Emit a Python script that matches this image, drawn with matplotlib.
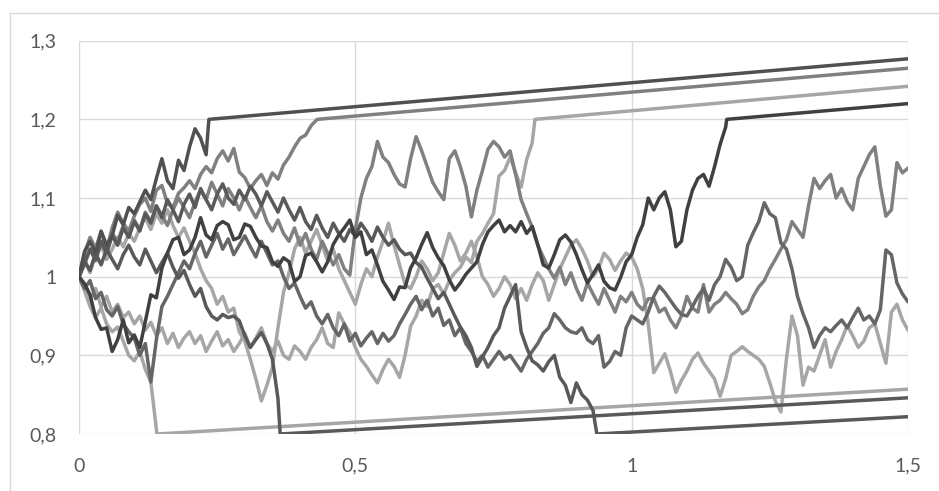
import matplotlib
matplotlib.use("Agg")
import matplotlib.pyplot as plt
from matplotlib.lines import Line2D

# time grid of the simulated paths (step 0.01)
TIME = [round(i * 0.01, 2) for i in range(151)]

# ---- paths absorbed at the upper barrier 1.2 ----
path_a = [1.000, 1.032, 1.045, 1.030, 1.058, 1.040, 1.052, 1.078, 1.066, 1.088,
          1.080, 1.095, 1.110, 1.098, 1.125, 1.150, 1.122, 1.112, 1.148, 1.135,
          1.165, 1.188, 1.176, 1.155]
path_a_tail_x = [0.235, 1.5]
path_a_tail_y = [1.2, 1.277]

path_b = [1.000, 1.030, 1.050, 1.036, 1.057, 1.035, 1.062, 1.082, 1.068, 1.058,
          1.077, 1.092, 1.100, 1.083, 1.110, 1.116, 1.093, 1.088, 1.106, 1.113,
          1.122, 1.112, 1.130, 1.140, 1.132, 1.150, 1.160, 1.147, 1.163, 1.133,
          1.126, 1.112, 1.122, 1.130, 1.116, 1.132, 1.124, 1.142, 1.152, 1.165,
          1.176, 1.180, 1.192]
path_b_tail_x = [0.431, 1.5]
path_b_tail_y = [1.2, 1.265]

path_c = [1.000, 0.985, 0.970, 0.985, 0.962, 0.975, 0.955, 0.965, 0.948, 0.955,
          0.940, 0.950, 0.932, 0.942, 0.925, 0.935, 0.915, 0.928, 0.910, 0.922,
          0.930, 0.915, 0.925, 0.905, 0.918, 0.930, 0.912, 0.920, 0.905, 0.915,
          0.928, 0.910, 0.922, 0.935, 0.915, 0.905, 0.918, 0.900, 0.895, 0.912,
          0.905, 0.895, 0.910, 0.920, 0.935, 0.915, 0.910, 0.954, 0.940, 0.929,
          0.910, 0.895, 0.886, 0.875, 0.865, 0.882, 0.895, 0.886, 0.872, 0.900,
          0.937, 0.950, 0.970, 0.962, 0.985, 0.990, 0.978, 0.995, 1.005, 1.012,
          1.025, 1.018, 1.045, 1.055, 1.068, 1.080, 1.128, 1.135, 1.152, 1.132,
          1.114, 1.149, 1.170]
path_c_tail_x = [0.825, 1.5]
path_c_tail_y = [1.2, 1.242]

path_d = [1.000, 0.991, 0.977, 0.948, 0.933, 0.935, 0.905, 0.920, 0.945, 0.916,
          0.926, 0.910, 0.943, 0.977, 0.973, 1.011, 1.030, 1.047, 1.050, 1.028,
          1.034, 1.050, 1.075, 1.053, 1.047, 1.065, 1.070, 1.066, 1.047, 1.050,
          1.067, 1.064, 1.050, 1.039, 1.037, 1.019, 1.013, 1.024, 1.019, 0.994,
          1.000, 1.027, 1.030, 1.019, 1.006, 1.019, 1.041, 1.053, 1.062, 1.072,
          1.050, 1.057, 1.028, 1.034, 1.015, 0.994, 0.983, 0.971, 0.987, 0.986,
          1.011, 1.024, 1.041, 1.056, 1.037, 1.024, 1.014, 0.996, 0.983, 0.992,
          1.003, 1.011, 1.019, 1.041, 1.057, 1.065, 1.072, 1.057, 1.065, 1.057,
          1.070, 1.055, 1.064, 1.041, 1.015, 1.011, 1.028, 1.047, 1.053, 1.044,
          1.028, 1.009, 0.992, 1.003, 1.015, 0.994, 0.986, 0.983, 0.999, 1.019,
          1.028, 1.050, 1.066, 1.100, 1.085, 1.100, 1.108, 1.085, 1.038, 1.045,
          1.085, 1.110, 1.125, 1.130, 1.115, 1.140, 1.168, 1.190]
path_d_tail_x = [1.172, 1.5]
path_d_tail_y = [1.2, 1.22]

# ---- paths absorbed at the lower barrier 0.8 ----
path_e = [1.000, 0.982, 0.962, 0.948, 0.960, 0.940, 0.930, 0.936, 0.918, 0.900,
          0.893, 0.905, 0.882, 0.866]
path_e_tail_x = [0.141, 1.5]
path_e_tail_y = [0.8, 0.857]

path_f = [1.000, 1.020, 1.008, 1.030, 1.015, 1.035, 1.022, 1.010, 1.028, 1.040,
          1.025, 1.015, 1.035, 1.020, 1.005, 1.018, 1.030, 1.012, 0.998, 1.008,
          0.990, 0.975, 0.985, 0.962, 0.950, 0.945, 0.952, 0.948, 0.950, 0.944,
          0.925, 0.910, 0.920, 0.929, 0.915, 0.895, 0.845]
path_f_tail_x = [0.364, 1.5]
path_f_tail_y = [0.8, 0.846]

path_g = [1.000, 1.018, 1.035, 1.022, 1.045, 1.030, 1.052, 1.040, 1.062, 1.050,
          1.070, 1.058, 1.080, 1.068, 1.090, 1.075, 1.098, 1.085, 1.070, 1.092,
          1.105, 1.088, 1.112, 1.098, 1.085, 1.105, 1.118, 1.100, 1.092, 1.110,
          1.098, 1.115, 1.105, 1.090, 1.108, 1.095, 1.082, 1.100, 1.085, 1.072,
          1.088, 1.070, 1.060, 1.078, 1.062, 1.050, 1.068, 1.055, 1.045, 1.060,
          1.052, 1.068, 1.058, 1.045, 1.063, 1.050, 1.040, 1.047, 1.035, 1.028,
          1.030, 1.018, 1.012, 0.998, 0.985, 0.972, 0.980, 0.965, 0.950, 0.936,
          0.925, 0.910, 0.886, 0.898, 0.910, 0.925, 0.935, 0.960, 0.975, 0.990,
          0.930, 0.910, 0.893, 0.888, 0.880, 0.892, 0.900, 0.872, 0.862, 0.840,
          0.865, 0.850, 0.843, 0.830]
path_g_tail_x = [0.937, 1.5]
path_g_tail_y = [0.8, 0.822]

# ---- paths still alive at t = 1.5 ----
path_h = [1.000, 1.015, 1.035, 1.020, 1.042, 1.030, 1.055, 1.045, 1.065, 1.052,
          1.072, 1.060, 1.082, 1.070, 1.090, 1.078, 1.065, 1.085, 1.100, 1.088,
          1.075, 1.095, 1.110, 1.098, 1.120, 1.105, 1.090, 1.112, 1.100, 1.085,
          1.102, 1.088, 1.075, 1.090, 1.070, 1.058, 1.072, 1.055, 1.045, 1.062,
          1.040, 1.055, 1.035, 1.022, 1.045, 1.030, 1.015, 1.028, 1.010, 1.002,
          1.060, 1.100, 1.125, 1.140, 1.172, 1.152, 1.145, 1.130, 1.118, 1.114,
          1.150, 1.178, 1.160, 1.140, 1.120, 1.108, 1.098, 1.150, 1.160, 1.140,
          1.115, 1.076, 1.110, 1.135, 1.162, 1.172, 1.165, 1.152, 1.160, 1.130,
          1.098, 1.080, 1.063, 1.040, 1.025, 1.010, 0.998, 1.012, 0.990, 1.005,
          0.985, 0.970, 0.992, 0.978, 0.965, 0.985, 0.970, 0.955, 0.975, 0.968,
          0.980, 0.965, 0.958, 0.972, 0.972, 0.955, 0.960, 0.945, 0.935, 0.950,
          0.975, 0.960, 0.955, 0.990, 0.955, 0.965, 0.970, 0.980, 0.972, 0.965,
          0.953, 0.958, 0.975, 0.987, 0.995, 1.010, 1.022, 1.035, 1.047, 1.070,
          1.060, 1.050, 1.090, 1.125, 1.112, 1.122, 1.130, 1.100, 1.112, 1.095,
          1.085, 1.125, 1.140, 1.155, 1.165, 1.115, 1.077, 1.085, 1.145, 1.132,
          1.138]

path_i = [1.000, 0.985, 0.995, 0.972, 0.980, 0.958, 0.950, 0.962, 0.940, 0.930,
          0.922, 0.900, 0.915, 0.866, 0.920, 0.962, 0.975, 0.990, 1.005, 1.020,
          1.010, 1.030, 1.045, 1.025, 1.040, 1.055, 1.035, 1.048, 1.028, 1.040,
          1.052, 1.038, 1.025, 1.045, 1.030, 1.015, 1.020, 1.000, 0.985, 0.992,
          0.975, 0.960, 0.968, 0.950, 0.940, 0.952, 0.935, 0.925, 0.940, 0.918,
          0.928, 0.912, 0.922, 0.930, 0.915, 0.928, 0.918, 0.925, 0.940, 0.952,
          0.965, 0.975, 0.958, 0.970, 0.950, 0.960, 0.938, 0.945, 0.925, 0.935,
          0.915, 0.905, 0.892, 0.900, 0.885, 0.895, 0.905, 0.895, 0.900, 0.890,
          0.880, 0.895, 0.905, 0.915, 0.928, 0.935, 0.953, 0.945, 0.935, 0.930,
          0.928, 0.935, 0.920, 0.915, 0.925, 0.885, 0.892, 0.905, 0.900, 0.935,
          0.950, 0.945, 0.940, 0.955, 0.975, 0.988, 0.980, 0.970, 0.960, 0.952,
          0.950, 0.962, 0.975, 0.985, 0.970, 0.990, 1.000, 1.022, 1.012, 0.995,
          1.000, 1.040, 1.056, 1.070, 1.094, 1.080, 1.075, 1.043, 1.035, 1.010,
          0.975, 0.953, 0.935, 0.910, 0.925, 0.935, 0.930, 0.938, 0.945, 0.935,
          0.948, 0.960, 0.945, 0.950, 0.940, 0.958, 1.034, 1.028, 0.992, 0.978,
          0.968]

path_j = [1.000, 1.020, 1.005, 1.028, 1.040, 1.022, 1.035, 1.050, 1.038, 1.055,
          1.045, 1.062, 1.075, 1.060, 1.080, 1.068, 1.085, 1.065, 1.050, 1.062,
          1.045, 1.030, 1.010, 0.995, 0.985, 0.965, 0.975, 0.955, 0.960, 0.930,
          0.918, 0.895, 0.870, 0.842, 0.862, 0.885, 0.935, 0.980, 1.005, 1.035,
          1.050, 1.030, 1.045, 1.060, 1.040, 1.020, 1.035, 1.010, 0.995, 0.980,
          0.965, 0.990, 1.010, 1.000, 1.025, 1.045, 1.068, 1.040, 1.015, 0.990,
          0.985, 1.000, 1.020, 1.010, 0.995, 1.005, 1.030, 1.055, 1.040, 1.020,
          1.030, 1.045, 1.025, 1.000, 0.990, 0.975, 0.985, 1.000, 0.990, 0.972,
          0.985, 0.970, 0.990, 1.005, 0.995, 0.970, 0.990, 1.010, 1.025, 1.040,
          1.047, 1.035, 1.020, 1.000, 1.010, 1.030, 1.022, 1.008, 1.020, 1.030,
          1.025, 1.010, 0.985, 0.940, 0.878, 0.890, 0.902, 0.880, 0.853, 0.868,
          0.880, 0.895, 0.903, 0.890, 0.880, 0.870, 0.848, 0.870, 0.900, 0.905,
          0.911, 0.905, 0.900, 0.895, 0.886, 0.865, 0.842, 0.828, 0.895, 0.950,
          0.925, 0.862, 0.885, 0.880, 0.900, 0.920, 0.885, 0.905, 0.920, 0.938,
          0.925, 0.910, 0.918, 0.935, 0.940, 0.915, 0.890, 0.955, 0.965, 0.945,
          0.932]

DARKEST = "#404040"
DARK = "#595959"
MID = "#808080"
LIGHT = "#a6a6a6"

series = [
    (path_c, path_c_tail_x, path_c_tail_y, LIGHT),
    (path_e, path_e_tail_x, path_e_tail_y, LIGHT),
    (path_j, None, None, LIGHT),
    (path_h, None, None, MID),
    (path_b, path_b_tail_x, path_b_tail_y, MID),
    (path_i, None, None, "#666666"),
    (path_g, path_g_tail_x, path_g_tail_y, DARK),
    (path_f, path_f_tail_x, path_f_tail_y, DARK),
    (path_a, path_a_tail_x, path_a_tail_y, "#505050"),
    (path_d, path_d_tail_x, path_d_tail_y, DARKEST),
]

fig = plt.figure(figsize=(9.39, 4.91), dpi=100)
ax = fig.add_axes([79 / 939, 1 - 434 / 491, (908 - 79) / 939, (434 - 40.7) / 491])

for ys, tx, ty, col in series:
    xs = TIME[:len(ys)]
    if tx is not None:
        xs = xs + tx
        ys = ys + ty
    ax.plot(xs, ys, color=col, lw=2.5, solid_joinstyle="round", solid_capstyle="round")

ax.set_xlim(0, 1.5)
ax.set_ylim(0.8, 1.3)
xt = [0, 0.5, 1, 1.5]
xl = ["0", "0,5", "1", "1,5"]
yt = [0.8, 0.9, 1.0, 1.1, 1.2, 1.3]
yl = ["0,8", "0,9", "1", "1,1", "1,2", "1,3"]
ax.set_xticks(xt)
ax.set_xticklabels(xl)
ax.set_yticks(yt)
ax.set_yticklabels(yl)
ax.grid(True, color="#d9d9d9", lw=1.0)
ax.set_axisbelow(True)
for s in ax.spines.values():
    s.set_visible(False)
ax.tick_params(length=0, labelsize=14, labelcolor="#595959")
ax.tick_params(axis="x", pad=17)
ax.tick_params(axis="y", pad=16)
for lab in ax.get_xticklabels() + ax.get_yticklabels():
    lab.set_family(["Lato", "DejaVu Sans"])

# chart-area border
fig.add_artist(Line2D([9.5 / 939, 1.0], [1 - 12.5 / 491, 1 - 12.5 / 491],
                      transform=fig.transFigure, color="#d9d9d9", lw=1.0))
fig.add_artist(Line2D([9.5 / 939, 9.5 / 939], [0.0, 1 - 12.5 / 491],
                      transform=fig.transFigure, color="#d9d9d9", lw=1.0))

fig.savefig("out.png", dpi=100)
